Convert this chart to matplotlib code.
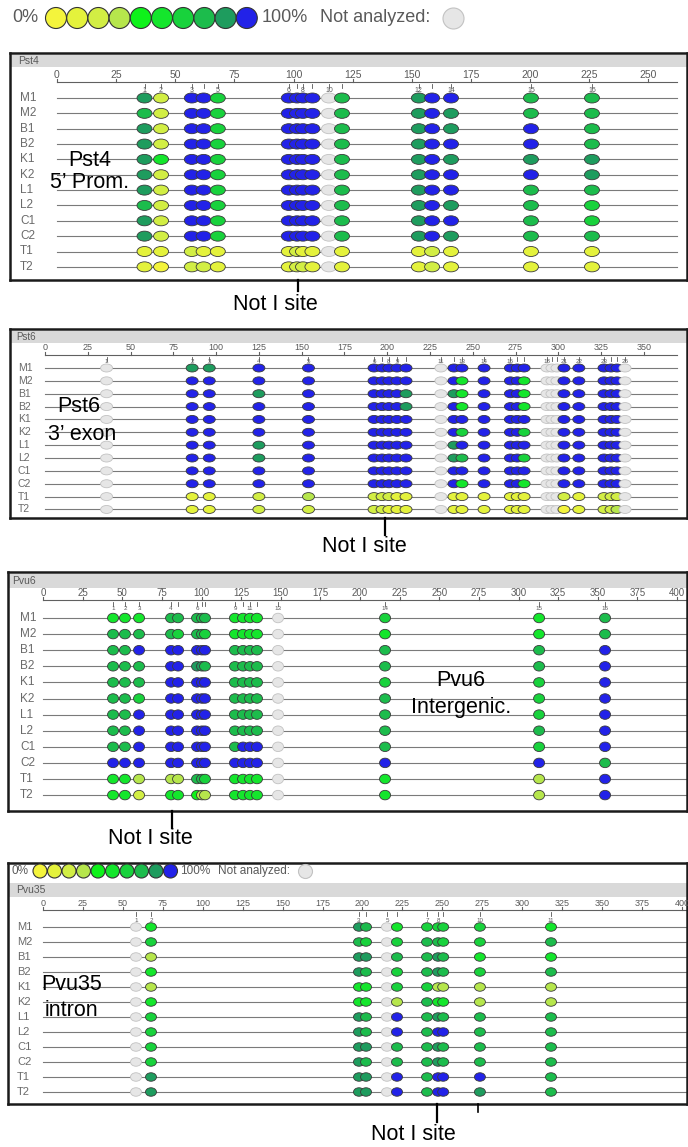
import matplotlib
matplotlib.use("Agg")
import matplotlib.pyplot as plt
from matplotlib.path import Path
from matplotlib.patches import Rectangle

plt.rcParams['font.family'] = ['Liberation Sans', 'DejaVu Sans']

W, H, DPI = 688, 1147, 100

samples = ["M1", "M2", "B1", "B2", "K1", "K2", "L1", "L2", "C1", "C2", "T1", "T2"]

# Methylation level of each CpG per sample: '0' (0%) ... '9' (100%), '-' = not analyzed
pst4_pos = [37, 44, 57, 62, 68, 98, 101.5, 104, 108, 115, 120.5, 153, 158.6, 166.6, 200.4, 226.2]
pst4_labeled = [1, 2, 3, 5, 6, 8, 10, 12, 14, 15, 16]
pst4_levels = [
    "829969999-789977", "729969999-789877", "829969999-789897", "829969999-789997",
    "859969999-789888", "829969999-789998", "829969999-789977", "729969999-789876",
    "829969999-789976", "829969999-789877", "112111211-112111", "102211221-112111",
]

pst6_pos = [36, 86, 96, 125, 154, 192.3, 197, 201, 205.7, 211, 231.4, 239, 243.7, 256.6,
            272, 276, 280, 293.4, 296.3, 299.2, 303.3, 312, 326.7, 330.8, 334.3, 339]
pst6_labeled = [1, 2, 3, 4, 5, 6, 8, 9, 11, 13, 14, 15, 18, 21, 22, 23, 26]
pst6_levels = [
    "-889999999-999999---99999-", "-999999999-959995---99999-",
    "-998999998-859995---99999-", "-999999998-959995---99999-",
    "-999999999-999999---99999-", "-999999999-969996---99999-",
    "-998999999-899999---99999-", "-998999999-879996---99999-",
    "-999999999-999999---99999-", "-999999999-959995---99999-",
    "-112322211-111111---21222-", "-112222111-111111---01223-",
]

pvu6_pos = [44.2, 51.7, 60.6, 80.8, 85.2, 97.2, 100.3, 102.2, 121.1, 126.2, 130.6, 135,
            148.3, 215.8, 313, 354.6]
pvu6_labeled = [1, 2, 3, 4, 6, 9, 11, 13, 14, 15, 16]
pvu6_levels = [
    "555777775555-657", "777767765555-557", "779999997777-779", "777998877777-779",
    "777999997777-669", "776999997777-769", "779999997777-769", "779999997777-779",
    "779999997999-769", "999999999999-997", "553337765555-539", "552554335555-539",
]

pvu35_pos = [58.2, 67.6, 197.8, 202.2, 215.3, 221.6, 240.4, 247.3, 250.5, 273.5, 318]
pvu35_labeled = [1, 2, 3, 5, 7, 8, 10, 11]
pvu35_levels = [
    "-587-566665", "-676-677667", "-388-778755", "-587-678767",
    "-355-663333", "-555-375533", "-687-978777", "-687-979977",
    "-688-778777", "-687-778777", "-888-979997", "-888-979987",
]

# colour scale from 0% (yellow) to 100% (blue)
palette = ['#f4f43c', '#e4f23c', '#d2ee44', '#b6e64c', '#0ef21a',
           '#14e62c', '#18d23c', '#1cbc4c', '#1e9c5e', '#2222e8']
na_face, na_edge = '#e6e6e6', '#c2c2c2'
dot_edge = '#3a3a3a'
grey_text = '#5a5a5a'

fig = plt.figure(figsize=(W / DPI, H / DPI), dpi=DPI)
fig.patch.set_facecolor('white')

circ = Path.unit_circle()


def oval(aspect):
    return Path(circ.vertices * [1.0, aspect], circ.codes)


def pt(px):
    return px * 72.0 / DPI


def draw_panel(name, pos, labeled, levels, g):
    left, top, right, bottom = g['box']
    ax = fig.add_axes([left / W, 1 - bottom / H, (right - left) / W, (bottom - top) / H])
    x0, ppu, r0, step = g['x0'], g['ppu'], g['row0'], g['step']

    def X(px):
        return (px - x0) / ppu

    def Y(py):
        return (py - r0) / step

    ax.set_xlim(X(left), X(right))
    ax.set_ylim(Y(bottom), Y(top))
    ax.set_xticks([])
    ax.set_yticks([])
    for s in ax.spines.values():
        s.set_linewidth(1.8)
        s.set_color('#1a1a1a')

    b0, b1 = g['band']
    ax.add_patch(Rectangle((X(left), Y(b0)), X(right) - X(left), Y(b1) - Y(b0),
                           facecolor='#d9d9d9', edgecolor='none', zorder=0))
    ax.text(X(g['name_x']), Y((b0 + b1) / 2), name, fontsize=g['head_fs'],
            color=grey_text, va='center', ha='left')

    end = X(g['line_end'])
    ry = Y(g['ruler'])
    ax.plot([0, end], [ry, ry], color='#606060', lw=0.8, zorder=1)
    for t in range(0, g['axis_max'] + 1, 25):
        ax.plot([t, t], [Y(g['ruler'] - 3), ry], color='#606060', lw=0.8)
        ax.text(t, Y(g['tick_lab']), str(t), fontsize=g['tick_fs'], color=grey_text,
                ha='center', va='center')
    for p in pos:
        ax.plot([p, p], [Y(g['ruler'] + 2), Y(g['ruler'] + 5.5)], color='#555555', lw=0.6)
    for n in labeled:
        ax.text(pos[n - 1], Y(g['num_y']), str(n), fontsize=g['num_fs'], color=grey_text,
                ha='center', va='center')

    for i, s in enumerate(samples):
        ax.plot([0, end], [i, i], color='#7a7a7a', lw=0.8, zorder=1)
        ax.text(X(g['lab_x']), i, s, fontsize=g['lab_fs'], color='#6a6a6a',
                ha='left', va='center')

    dw, dh = g['dot']
    marker = oval(dh / dw)
    xs, ys, fc, ec = [], [], [], []
    for i, row in enumerate(levels):
        for j, c in enumerate(row):
            xs.append(pos[j])
            ys.append(i)
            if c == '-':
                fc.append(na_face)
                ec.append(na_edge)
            else:
                fc.append(palette[int(c)])
                ec.append(dot_edge)
    ax.scatter(xs, ys, s=pt(dw) ** 2, marker=marker, facecolors=fc, edgecolors=ec,
               linewidths=0.6, zorder=3)
    return ax


geo = {
    'Pst4': dict(box=(10, 53, 687, 280), band=(55, 67), name_x=18, head_fs=7.5,
                 tick_lab=75, ruler=82, num_y=90, x0=57, ppu=2.365, row0=98, step=15.35,
                 line_end=677, lab_x=20, lab_fs=8.5, tick_fs=7.5, num_fs=5,
                 dot=(15, 10), axis_max=250),
    'Pst6': dict(box=(10, 329, 687, 518), band=(331, 343), name_x=16, head_fs=7,
                 tick_lab=348, ruler=355, num_y=361.5, x0=45, ppu=1.711, row0=368,
                 step=12.86, line_end=677, lab_x=18, lab_fs=7.5, tick_fs=6.5, num_fs=4.5,
                 dot=(12, 8), axis_max=350),
    'Pvu6': dict(box=(8, 572, 687, 811), band=(574, 588), name_x=12, head_fs=7.5,
                 tick_lab=593, ruler=600, num_y=609, x0=43, ppu=1.585, row0=618,
                 step=16.1, line_end=687, lab_x=20, lab_fs=8.5, tick_fs=7, num_fs=4.5,
                 dot=(11, 9.5), axis_max=400),
    'Pvu35': dict(box=(8, 863, 687, 1104), band=(883, 897), name_x=16, head_fs=7.5,
                  tick_lab=903, ruler=910, num_y=920, x0=43, ppu=1.5975, row0=927,
                  step=15, line_end=687, lab_x=17, lab_fs=8, tick_fs=6.5, num_fs=4.5,
                  dot=(11, 8.5), axis_max=400),
}

draw_panel('Pst4', pst4_pos, pst4_labeled, pst4_levels, geo['Pst4'])
draw_panel('Pst6', pst6_pos, pst6_labeled, pst6_levels, geo['Pst6'])
draw_panel('Pvu6', pvu6_pos, pvu6_labeled, pvu6_levels, geo['Pvu6'])
draw_panel('Pvu35', pvu35_pos, pvu35_labeled, pvu35_levels, geo['Pvu35'])

# annotations and colour keys in figure pixel space
ov = fig.add_axes([0, 0, 1, 1], zorder=10)
ov.set_xlim(0, W)
ov.set_ylim(H, 0)
ov.axis('off')


def colour_key(x_text, y, diam, gap, fs, x_first, x_100, x_na, x_na_dot):
    ov.text(x_text, y, "0%", fontsize=fs, color=grey_text, ha='left', va='center')
    xs = [x_first + k * gap for k in range(len(palette))]
    ov.scatter(xs, [y] * len(xs), s=pt(diam) ** 2, c=palette, edgecolors='#333333',
               linewidths=0.8, zorder=3)
    ov.text(x_100, y, "100%", fontsize=fs, color=grey_text, ha='left', va='center')
    ov.text(x_na, y, "Not analyzed:", fontsize=fs, color=grey_text, ha='left', va='center')
    ov.scatter([x_na_dot], [y], s=pt(diam) ** 2, c=na_face, edgecolors=na_edge,
               linewidths=0.8, zorder=3)


colour_key(12, 18, 21, 21.2, 13, 56, 262, 320, 453)
colour_key(11, 871, 14, 14.5, 8.5, 40, 180, 218, 305)

big = 15.5
ov.text(90, 160, "Pst4", fontsize=big, ha='center', va='center')
ov.text(90, 183, "5’ Prom.", fontsize=big, ha='center', va='center')
ov.text(79, 407, "Pst6", fontsize=big, ha='center', va='center')
ov.text(82, 434, "3’ exon", fontsize=big, ha='center', va='center')
ov.text(461, 681, "Pvu6", fontsize=big, ha='center', va='center')
ov.text(461, 707, "Intergenic.", fontsize=big, ha='center', va='center')
ov.text(41, 984, "Pvu35", fontsize=big, ha='left', va='center')
ov.text(45, 1011, "intron", fontsize=big, ha='left', va='center')

for (tx, ty), (lx, l0, l1) in [((275, 305), (298, 280, 291)),
                               ((364, 547), (385, 518, 535)),
                               ((150, 839), (172, 811, 828)),
                               ((413, 1134), (437, 1104, 1122))]:
    ov.text(tx, ty, "Not I site", fontsize=big, ha='center', va='center')
    ov.plot([lx, lx], [l0, l1], color='black', lw=1.6)
ov.plot([478, 478], [1104, 1112], color='black', lw=1.2)

fig.savefig("out.png", dpi=DPI, facecolor='white')
